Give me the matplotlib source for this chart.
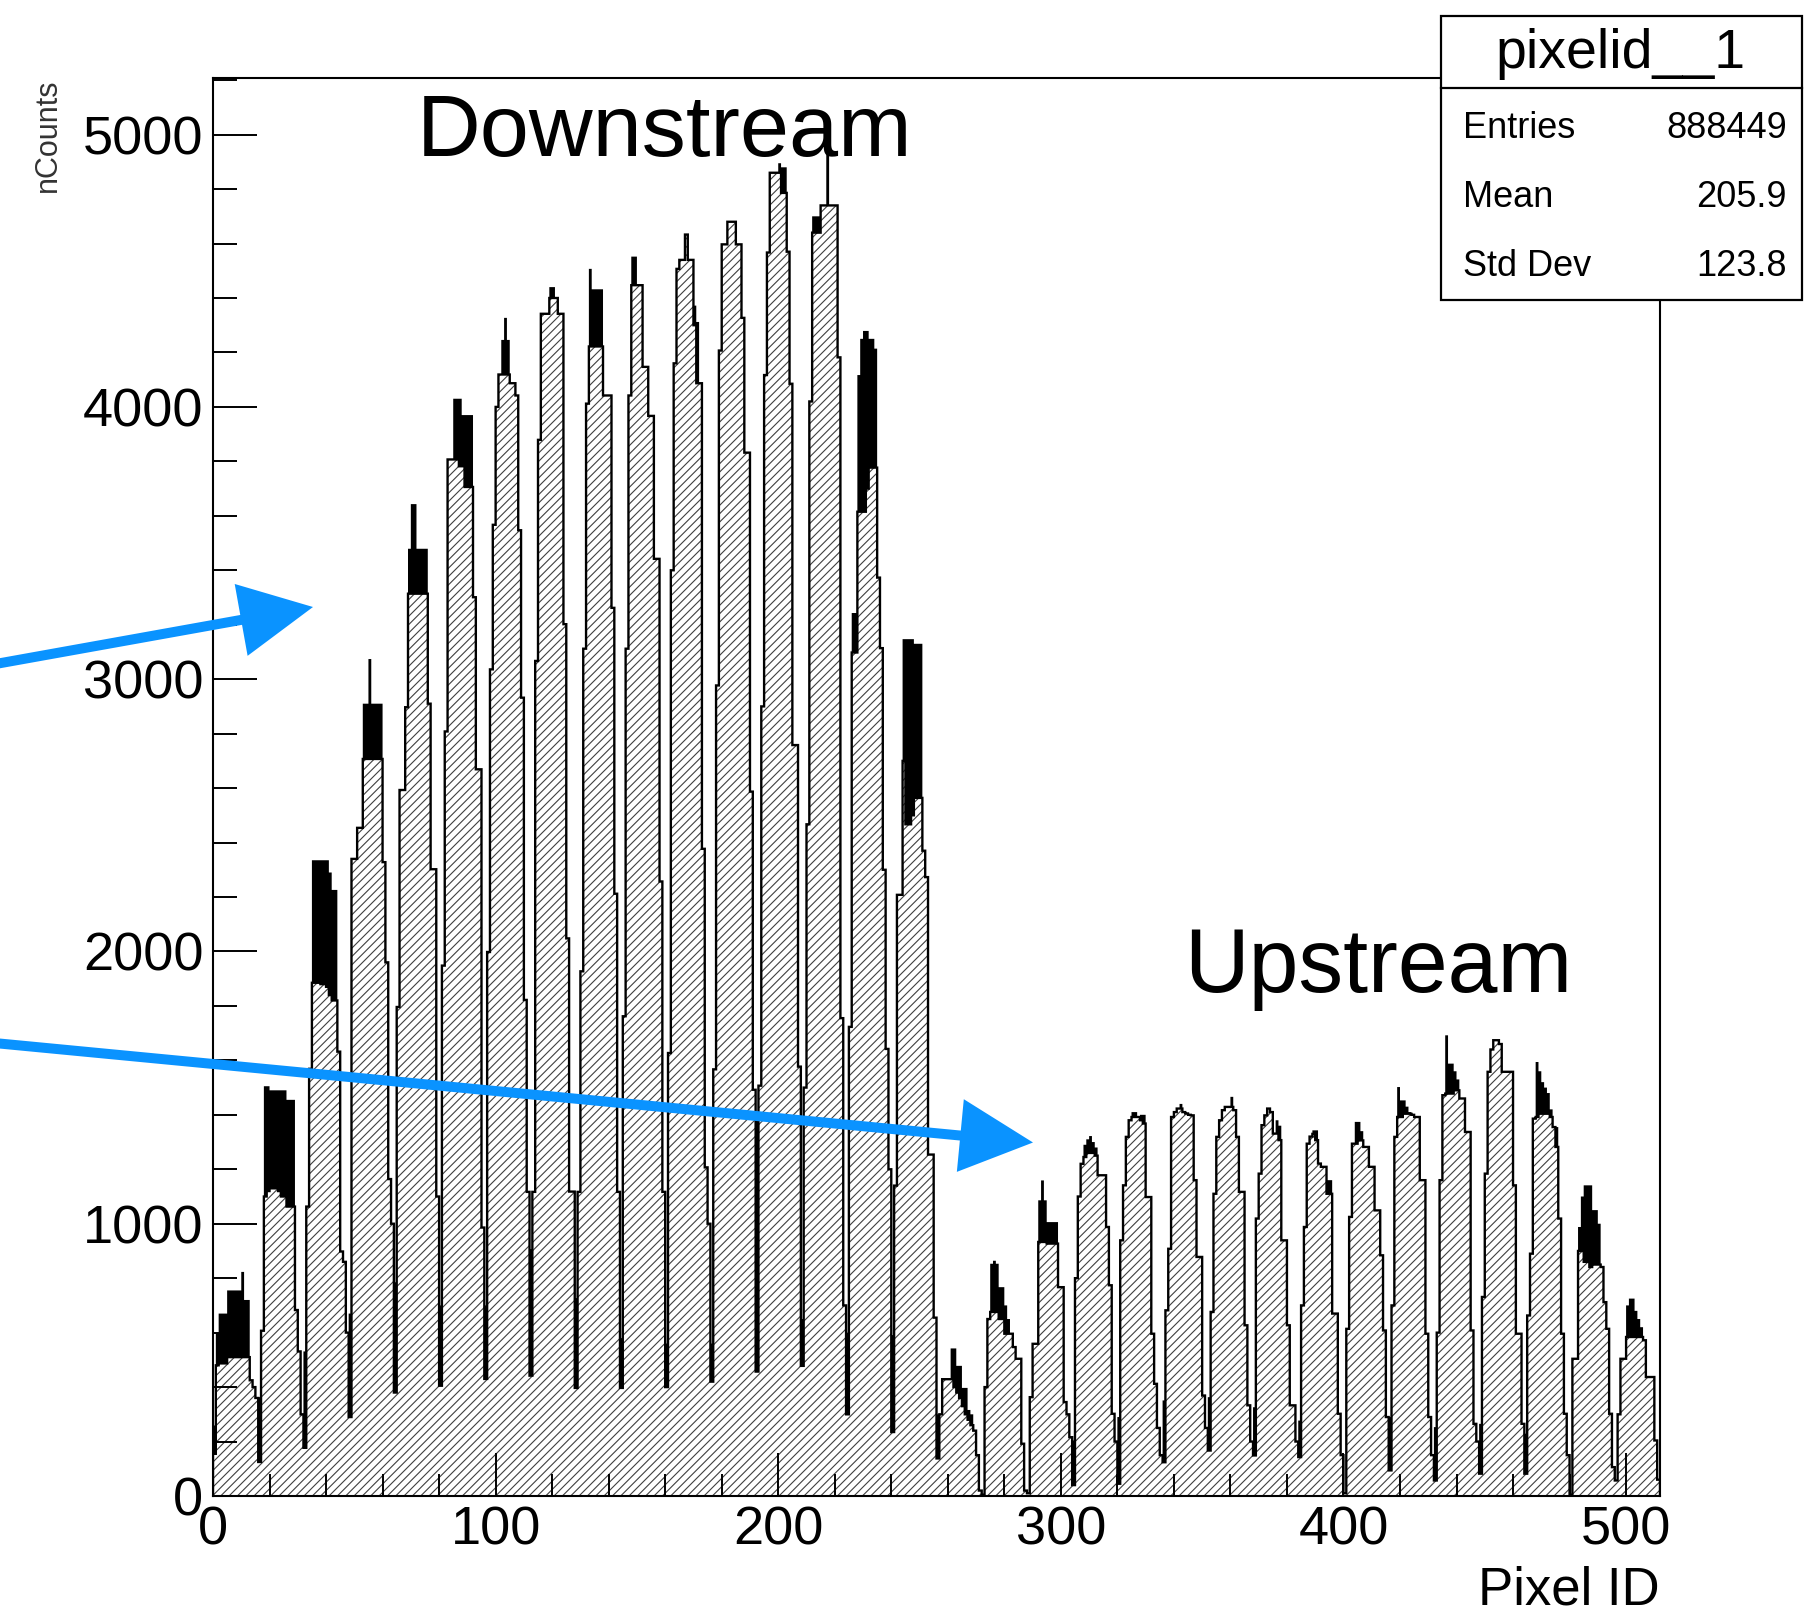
import numpy as np
import matplotlib
matplotlib.use("Agg")
import matplotlib.pyplot as plt
from matplotlib.patches import Rectangle, Polygon
from matplotlib.lines import Line2D
from matplotlib.ticker import MultipleLocator

# ---------------- data (counts per pixel, 16 pixels per module) ----------------
downstream_counts = [
    [155, 480, 487, 487, 487, 510, 510, 510, 510, 510, 510, 510, 510, 425, 400, 360],
    [125, 607, 1100, 1120, 1130, 1130, 1130, 1120, 1100, 1100, 1063, 1063, 1063, 683, 531, 300],
    [177, 1063, 1569, 1885, 1885, 1885, 1880, 1880, 1870, 1840, 1820, 1820, 1632, 898, 860, 600],
    [290, 2340, 2340, 2454, 2454, 2707, 2707, 2707, 2707, 2707, 2707, 2707, 2328, 1960, 1164, 1000],
    [380, 1796, 2593, 2593, 2897, 3314, 3314, 3314, 3314, 3314, 3314, 3314, 2910, 2302, 2302, 1100],
    [405, 1948, 2808, 3807, 3807, 3807, 3807, 3782, 3782, 3706, 3706, 3706, 3301, 2669, 2669, 986],
    [430, 1998, 3036, 3567, 4000, 4119, 4119, 4119, 4119, 4087, 4087, 4042, 3547, 2932, 1822, 1117],
    [442, 1117, 3067, 3879, 4342, 4342, 4342, 4400, 4400, 4400, 4342, 4342, 3202, 2048, 1118, 1118],
    [397, 1117, 1927, 3112, 4012, 4222, 4222, 4222, 4222, 4222, 4042, 4042, 4042, 3262, 2212, 1117],
    [397, 1762, 3112, 4042, 4447, 4447, 4447, 4447, 4147, 4147, 3967, 3967, 3442, 3442, 2257, 1117],
    [400, 1627, 3400, 4160, 4507, 4540, 4540, 4633, 4540, 4540, 4300, 4087, 4087, 2377, 1207, 1000],
    [420, 1567, 2977, 4207, 4597, 4597, 4680, 4680, 4680, 4597, 4597, 4327, 3832, 3832, 2587, 1492],
    [457, 1507, 2900, 4117, 4567, 4860, 4860, 4860, 4860, 4786, 4786, 4570, 4085, 2758, 2758, 1577],
    [478, 1500, 2467, 4020, 4640, 4640, 4640, 4740, 4740, 4740, 4740, 4740, 4740, 4182, 1755, 700],
    [300, 1723, 3098, 3098, 3615, 3615, 3615, 3700, 3777, 3777, 3777, 3373, 3114, 2300, 1642, 1200],
    [235, 1140, 2208, 2208, 2700, 2467, 2467, 2500, 2564, 2564, 2564, 2370, 2273, 1254, 1254, 655],
]
upstream_counts = [
    [138, 300, 429, 429, 429, 429, 400, 380, 360, 330, 300, 280, 260, 240, 150, 20],
    [5, 400, 650, 676, 676, 676, 650, 650, 596, 596, 596, 547, 504, 504, 192, 20],
    [10, 363, 559, 559, 933, 933, 933, 927, 927, 927, 927, 767, 767, 345, 300, 216],
    [40, 800, 1100, 1220, 1245, 1260, 1260, 1260, 1250, 1178, 1178, 1178, 988, 774, 302, 200],
    [45, 939, 1141, 1319, 1380, 1392, 1392, 1392, 1380, 1368, 1098, 1098, 596, 412, 250, 150],
    [124, 682, 908, 1392, 1410, 1423, 1423, 1410, 1405, 1400, 1398, 1160, 878, 878, 369, 250],
    [167, 676, 1110, 1319, 1380, 1417, 1429, 1429, 1429, 1417, 1319, 1117, 1117, 627, 333, 200],
    [149, 1019, 1184, 1362, 1398, 1423, 1410, 1331, 1331, 1307, 939, 939, 627, 333, 333, 200],
    [143, 700, 988, 1294, 1320, 1330, 1307, 1221, 1209, 1209, 1110, 1110, 670, 670, 302, 150],
    [10, 614, 1025, 1294, 1294, 1306, 1306, 1282, 1282, 1209, 1209, 1049, 1049, 884, 608, 290],
    [94, 700, 1319, 1392, 1392, 1404, 1404, 1404, 1400, 1392, 1392, 1160, 1160, 596, 290, 150],
    [57, 600, 1160, 1472, 1478, 1478, 1478, 1490, 1490, 1460, 1460, 1337, 1337, 608, 265, 200],
    [82, 731, 1184, 1558, 1640, 1674, 1674, 1660, 1558, 1558, 1558, 1558, 1141, 596, 596, 265],
    [82, 663, 890, 1386, 1392, 1404, 1404, 1404, 1404, 1392, 1355, 1282, 1019, 596, 302, 150],
    [5, 504, 504, 900, 900, 860, 860, 841, 850, 850, 850, 841, 712, 614, 302, 106],
    [57, 300, 504, 504, 584, 584, 584, 584, 584, 584, 572, 437, 437, 437, 204, 60],
]
# second (black, filled) histogram: bins where it rises above the hatched one
black_downstream = {
    0: 259, 1: 600, 2: 670, 3: 670, 4: 670, 5: 755, 6: 755, 7: 755, 8: 755, 9: 755,
    10: 823, 11: 720, 12: 720,
    16: 363, 18: 1505, 19: 1505, 20: 1490, 21: 1490, 22: 1490, 23: 1490, 24: 1490,
    25: 1490, 26: 1455, 27: 1455, 28: 1455,
    32: 531, 35: 2335, 36: 2335, 37: 2335, 38: 2335, 39: 2335, 40: 2335, 41: 2290,
    42: 2226, 43: 2226,
    48: 670, 53: 2910, 54: 2910, 55: 3074, 56: 2910, 57: 2910, 58: 2910, 59: 2910,
    64: 785, 69: 3479, 70: 3643, 71: 3643, 72: 3479, 73: 3479, 74: 3479, 75: 3479,
    80: 700, 85: 4030, 86: 4030, 87: 4030, 88: 3970, 89: 3970, 90: 3970, 91: 3970,
    96: 700, 102: 4246, 103: 4327, 104: 4246,
    112: 907, 119: 4440, 120: 4440,
    128: 727, 133: 4507, 134: 4432, 135: 4432, 136: 4432, 137: 4432,
    144: 580, 148: 4552, 149: 4552,
    160: 560, 170: 4372, 171: 4312,
    176: 560,
    192: 1387, 200: 4895, 201: 4880, 202: 4880,
    208: 650, 212: 4700, 213: 4700, 214: 4700, 217: 4960,
    224: 600, 226: 3243, 227: 3243, 228: 4117, 229: 4250, 230: 4279, 231: 4279,
    232: 4250, 233: 4250, 234: 4214,
    240: 591, 244: 3147, 245: 3147, 246: 3147, 247: 3147, 248: 3130, 249: 3130, 250: 3130,
}
black_upstream = {
    256: 300, 261: 542, 262: 542, 263: 478, 264: 478, 265: 397, 266: 397, 267: 316, 268: 300,
    275: 853, 276: 864, 277: 853, 278: 767, 279: 767, 280: 700, 281: 650,
    292: 1086, 293: 1159, 294: 1086, 295: 1006, 296: 1006, 297: 1006, 298: 1006,
    304: 204, 308: 1290, 309: 1310, 310: 1322, 311: 1300, 312: 1280,
    320: 290, 325: 1410, 326: 1410, 328: 1400, 329: 1400,
    336: 351, 342: 1440,
    352: 363, 360: 1466,
    368: 326, 376: 1380, 377: 1360,
    384: 277, 389: 1343, 390: 1343, 394: 1160, 395: 1160,
    404: 1374, 405: 1374, 406: 1340,
    416: 290, 419: 1502, 420: 1453, 421: 1453, 422: 1430, 423: 1410,
    432: 253, 436: 1692, 437: 1588, 438: 1588, 439: 1560, 440: 1530,
    448: 265,
    464: 229, 468: 1594, 469: 1560, 470: 1520, 471: 1500, 472: 1480, 473: 1420, 475: 1355,
    483: 988, 484: 1100, 485: 1141, 486: 1141, 487: 1141, 488: 1050, 489: 1050, 490: 1000,
    500: 700, 501: 725, 502: 725, 503: 680, 504: 650, 505: 620,
}
stats_labels = ["Entries", "Mean", "Std Dev"]
stats_values = ["888449", "205.9", "123.8"]
x_ticks = [0, 100, 200, 300, 400, 500]
y_ticks = [0, 1000, 2000, 3000, 4000, 5000]

# ---------------- build histograms ----------------
hatched = np.array(downstream_counts + upstream_counts, dtype=float).ravel()
black = hatched.copy()
for d in (black_downstream, black_upstream):
    for b, v in d.items():
        black[b] = max(black[b], v)
edges = np.arange(len(hatched) + 1)

# ---------------- figure ----------------
W, H = 1808, 1619
plt.rcParams["font.family"] = ["Liberation Sans", "DejaVu Sans"]
plt.rcParams["hatch.linewidth"] = 0.8
HATCH_COL = "#404040"

fig = plt.figure(figsize=(W / 100, H / 100), dpi=100)
fig.patch.set_facecolor("white")
ax = fig.add_axes([213 / W, 1 - 1496 / H, (1660 - 213) / W, (1496 - 78) / H])
ax.set_xlim(0, 512)
ax.set_ylim(0, 1.05 * black.max())

ax.stairs(black, edges, fill=True, facecolor="black", edgecolor="black", lw=0, zorder=1)
ax.stairs(hatched, edges, fill=True, facecolor="white", edgecolor=HATCH_COL,
          hatch="////", lw=0, zorder=2)
ax.stairs(hatched, edges, fill=False, color="black", lw=1.7, zorder=3)

ax.set_xticks(x_ticks)
ax.set_yticks(y_ticks)
ax.xaxis.set_minor_locator(MultipleLocator(20))
ax.yaxis.set_minor_locator(MultipleLocator(200))
ax.tick_params(which="both", direction="in", top=False, right=False, width=1.4, color="black")
ax.tick_params(axis="y", which="major", length=32, labelsize=39, pad=7)
ax.tick_params(axis="y", which="minor", length=17)
ax.tick_params(axis="x", which="major", length=31, labelsize=39, pad=7)
ax.tick_params(axis="x", which="minor", length=16)
ax.set_axisbelow(False)
for s in ax.spines.values():
    s.set_linewidth(1.5)
    s.set_zorder(5)

# axis titles (ROOT style)
fig.text(48 / W, 1 - 78 / H, "nCounts", rotation=90, ha="center", va="top",
         fontsize=22, color="#333333")
fig.text(1660 / W, 1 - 1604 / H, "Pixel ID", ha="right", va="baseline", fontsize=38)

# stats box
fig.add_artist(Rectangle((1441 / W, 1 - 300 / H), (1802 - 1441) / W, (300 - 16) / H,
                         transform=fig.transFigure, facecolor="white", edgecolor="black",
                         lw=1.6, zorder=10))
fig.add_artist(Line2D([1441 / W, 1802 / W], [1 - 88 / H, 1 - 88 / H],
                      transform=fig.transFigure, color="black", lw=1.6, zorder=11))
fig.text(1620 / W, 1 - 54 / H, "pixelid__1", ha="center", va="center", fontsize=40, zorder=12)
for i, (lab, val) in enumerate(zip(stats_labels, stats_values)):
    yy = 1 - (128 + 69.5 * i) / H
    fig.text(1463 / W, yy, lab, ha="left", va="center", fontsize=26, zorder=12)
    fig.text(1787 / W, yy, val, ha="right", va="center", fontsize=26, zorder=12)

# annotations
fig.text(417 / W, 1 - 156 / H, "Downstream", ha="left", va="baseline", fontsize=63.5, zorder=12)
fig.text(1184 / W, 1 - 992 / H, "Upstream", ha="left", va="baseline", fontsize=64.5, zorder=12)

ARROW_COL = "#0A93FF"


def draw_arrow(tail, tip, shaft_px=10, head_len=73, head_w=73):
    tail = np.array(tail, float)
    tip = np.array(tip, float)
    d = tip - tail
    d /= np.hypot(*d)
    perp = np.array([-d[1], d[0]])
    back = tip - d * head_len
    c1 = back + perp * head_w / 2
    c2 = back - perp * head_w / 2
    end = back + d * 5

    def f(p):
        return (p[0] / W, 1 - p[1] / H)

    fig.add_artist(Line2D([f(tail)[0], f(end)[0]], [f(tail)[1], f(end)[1]],
                          transform=fig.transFigure, color=ARROW_COL,
                          lw=shaft_px * 0.72, solid_capstyle="butt", zorder=20))
    fig.add_artist(Polygon([f(tip), f(c1), f(c2)], closed=True, transform=fig.transFigure,
                           facecolor=ARROW_COL, edgecolor="none", zorder=21))


draw_arrow((-10, 665), (313, 607))
draw_arrow((-10, 1042.6), (1033, 1142.5))

fig.savefig("out.png", dpi=100, facecolor="white")
